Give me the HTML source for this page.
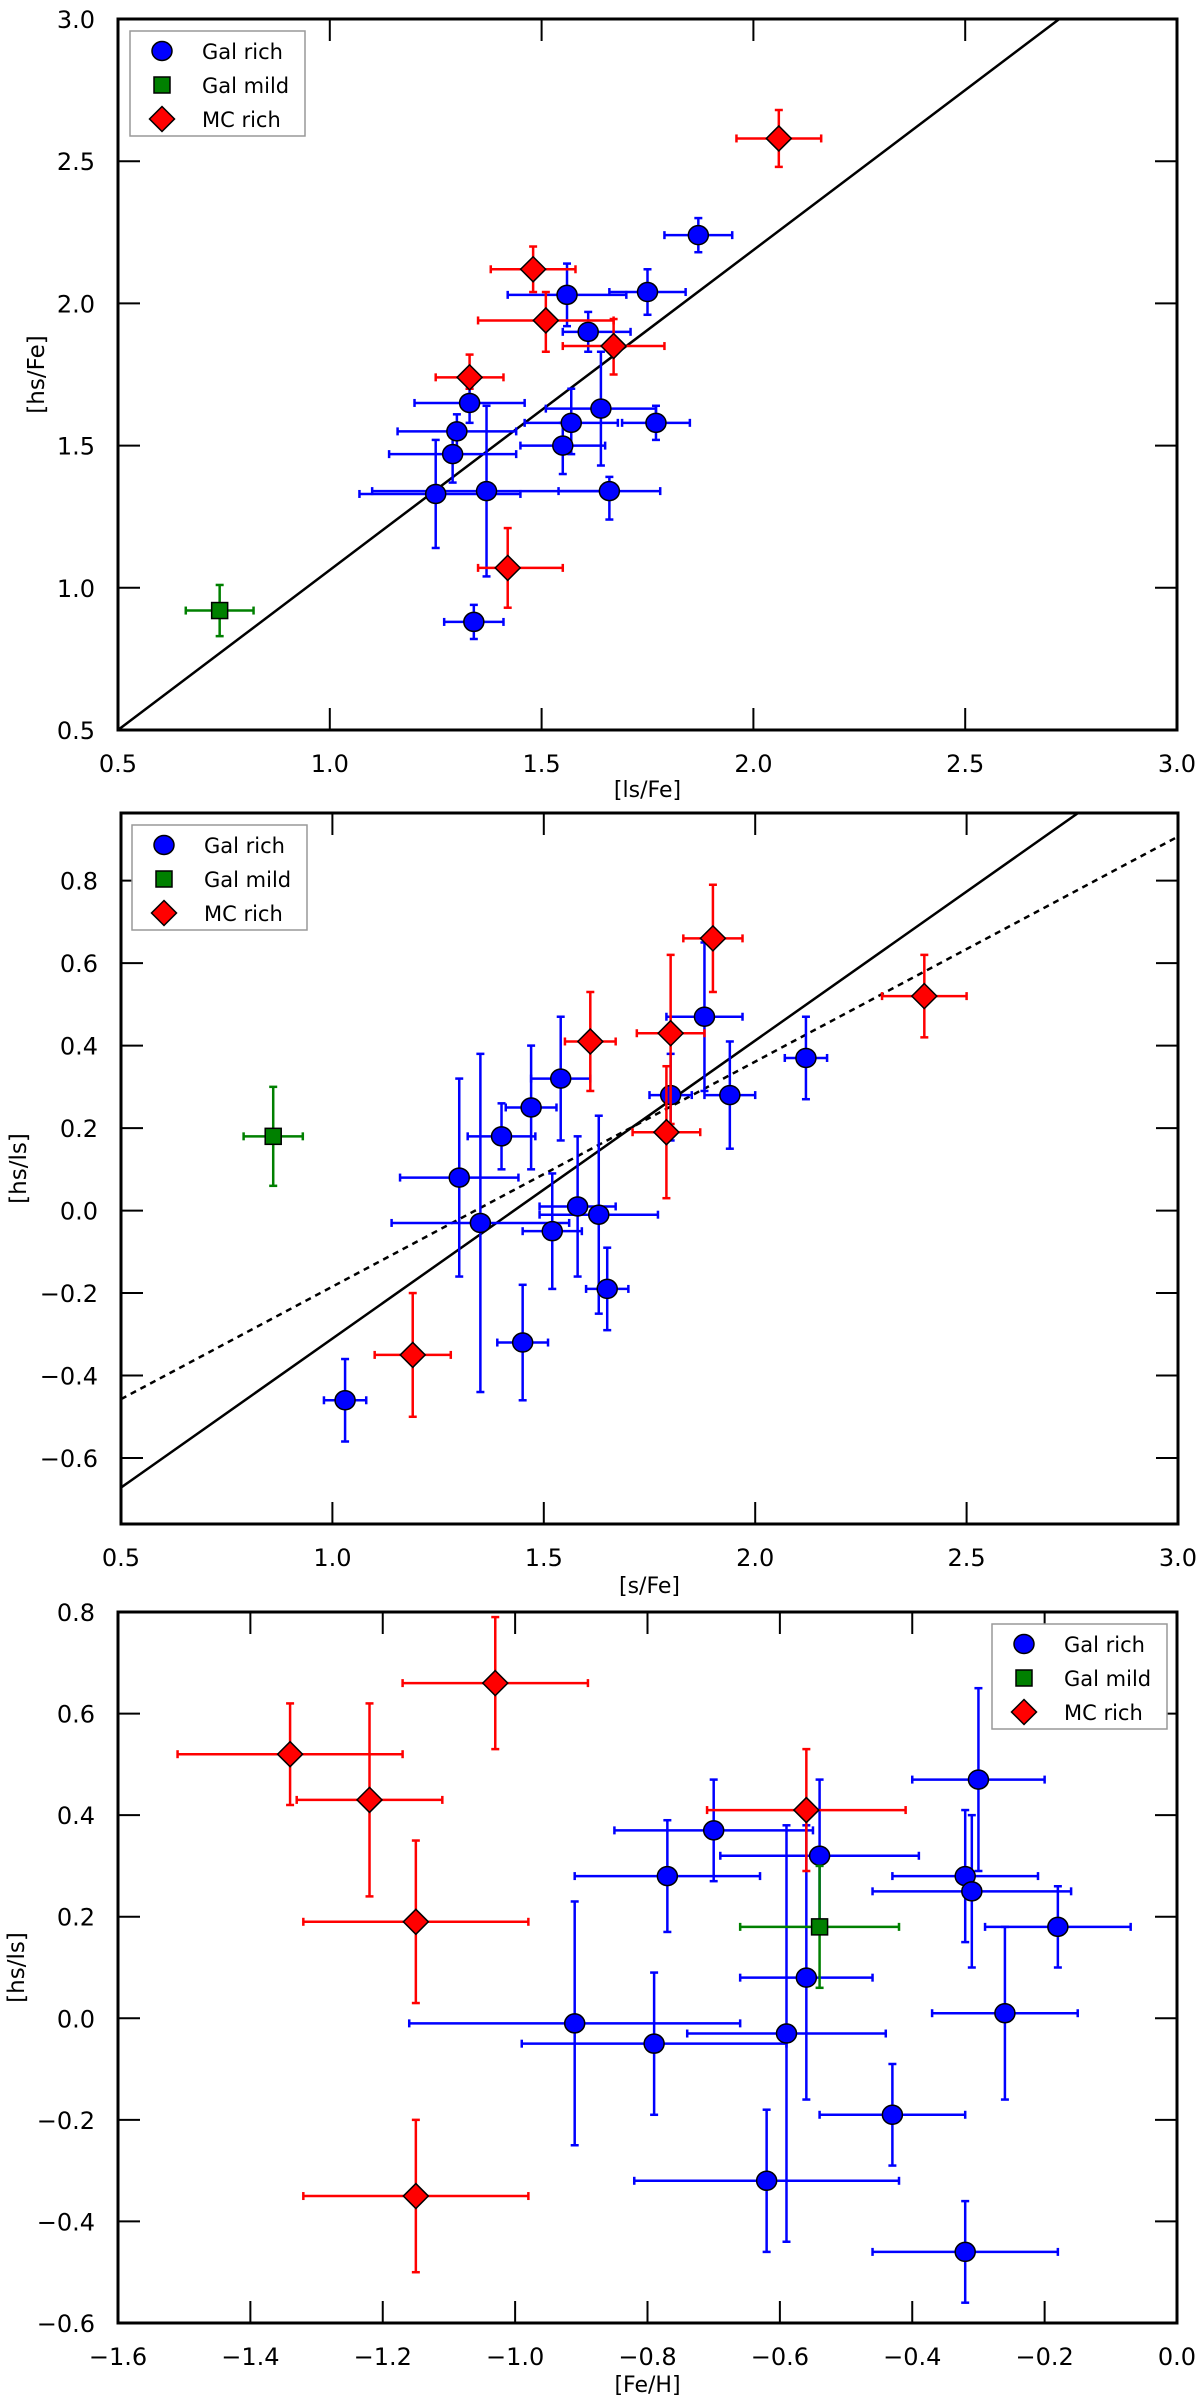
<!DOCTYPE html>
<html>
<head>
<meta charset="utf-8">
<style>
  html,body{margin:0;padding:0;background:#fff;}
  svg{display:block;font-family:"DejaVu Sans","Liberation Sans",sans-serif;}
</style>
</head>
<body>
<svg id="fig" width="1200" height="2400" viewBox="0 0 1200 2400" xmlns="http://www.w3.org/2000/svg"></svg>
<script>
// ---------- Panel 1 data: [hs/Fe] vs [ls/Fe] ----------
const p1RichX   = [1.87,1.56,1.75,1.61,1.33,1.30,1.29,1.25,1.37,1.66,1.57,1.64,1.77,1.55,1.34];
const p1RichY   = [2.24,2.03,2.04,1.90,1.65,1.55,1.47,1.33,1.34,1.34,1.58,1.63,1.58,1.50,0.88];
const p1RichXlo = [1.79,1.42,1.66,1.55,1.20,1.16,1.14,1.07,1.10,1.54,1.46,1.51,1.69,1.45,1.27];
const p1RichXhi = [1.95,1.70,1.84,1.71,1.46,1.44,1.44,1.45,1.66,1.78,1.68,1.77,1.85,1.65,1.41];
const p1RichYlo = [2.18,1.92,1.96,1.83,1.58,1.47,1.37,1.14,1.04,1.24,1.47,1.43,1.52,1.40,0.82];
const p1RichYhi = [2.30,2.14,2.12,1.97,1.70,1.61,1.53,1.52,1.64,1.39,1.70,1.83,1.64,1.58,0.94];
const p1MildX = [0.74], p1MildY = [0.92], p1MildXlo = [0.66], p1MildXhi = [0.82], p1MildYlo = [0.83], p1MildYhi = [1.01];
const p1McX   = [2.06,1.48,1.51,1.67,1.33,1.42];
const p1McY   = [2.58,2.12,1.94,1.85,1.74,1.07];
const p1McXlo = [1.96,1.38,1.35,1.55,1.25,1.35];
const p1McXhi = [2.16,1.58,1.67,1.79,1.41,1.55];
const p1McYlo = [2.48,2.04,1.83,1.75,1.70,0.93];
const p1McYhi = [2.68,2.20,2.04,1.945,1.82,1.21];
const p1FitSlope = [1.125], p1FitIntercept = [-0.0625];
const p1XTicks = [0.5,1.0,1.5,2.0,2.5,3.0];
const p1YTicks = [0.5,1.0,1.5,2.0,2.5,3.0];

// ---------- Panel 2 data: [hs/ls] vs [s/Fe] ----------
const p2RichX   = [1.03,1.30,1.35,1.40,1.47,1.54,1.52,1.58,1.63,1.65,1.45,1.80,1.88,1.94,2.12];
const p2RichY   = [-0.46,0.08,-0.03,0.18,0.25,0.32,-0.05,0.01,-0.01,-0.19,-0.32,0.28,0.47,0.28,0.37];
const p2RichXlo = [0.98,1.16,1.14,1.32,1.41,1.47,1.45,1.49,1.49,1.60,1.39,1.75,1.79,1.88,2.07];
const p2RichXhi = [1.08,1.44,1.56,1.48,1.53,1.61,1.59,1.67,1.77,1.70,1.51,1.85,1.97,2.00,2.17];
const p2RichYlo = [-0.56,-0.16,-0.44,0.10,0.10,0.17,-0.19,-0.16,-0.25,-0.29,-0.46,0.17,0.29,0.15,0.27];
const p2RichYhi = [-0.36,0.32,0.38,0.26,0.40,0.47,0.09,0.18,0.23,-0.09,-0.18,0.38,0.65,0.41,0.47];
const p2MildX = [0.86], p2MildY = [0.18], p2MildXlo = [0.79], p2MildXhi = [0.93], p2MildYlo = [0.06], p2MildYhi = [0.30];
const p2McX   = [1.19,1.61,1.80,1.90,1.79,2.40];
const p2McY   = [-0.35,0.41,0.43,0.66,0.19,0.52];
const p2McXlo = [1.10,1.55,1.72,1.83,1.71,2.30];
const p2McXhi = [1.28,1.67,1.88,1.97,1.87,2.50];
const p2McYlo = [-0.50,0.29,0.21,0.53,0.03,0.42];
const p2McYhi = [-0.20,0.53,0.62,0.79,0.35,0.62];
const p2FitSlope = [0.7226,0.5456], p2FitIntercept = [-1.033,-0.730];
const p2XTicks = [0.5,1.0,1.5,2.0,2.5,3.0];
const p2YTicks = [-0.6,-0.4,-0.2,0.0,0.2,0.4,0.6,0.8];

// ---------- Panel 3 data: [hs/ls] vs [Fe/H] ----------
const p3RichX   = [-0.70,-0.77,-0.54,-0.30,-0.32,-0.31,-0.18,-0.56,-0.26,-0.91,-0.79,-0.59,-0.43,-0.62,-0.32];
const p3RichY   = [0.37,0.28,0.32,0.47,0.28,0.25,0.18,0.08,0.01,-0.01,-0.05,-0.03,-0.19,-0.32,-0.46];
const p3RichXlo = [-0.85,-0.91,-0.69,-0.40,-0.43,-0.46,-0.29,-0.66,-0.37,-1.16,-0.99,-0.74,-0.54,-0.82,-0.46];
const p3RichXhi = [-0.55,-0.63,-0.39,-0.20,-0.21,-0.16,-0.07,-0.46,-0.15,-0.66,-0.59,-0.44,-0.32,-0.42,-0.18];
const p3RichYlo = [0.27,0.17,0.17,0.29,0.15,0.10,0.10,-0.16,-0.16,-0.25,-0.19,-0.44,-0.29,-0.46,-0.56];
const p3RichYhi = [0.47,0.39,0.47,0.65,0.41,0.40,0.26,0.38,0.18,0.23,0.09,0.38,-0.09,-0.18,-0.36];
const p3MildX = [-0.54], p3MildY = [0.18], p3MildXlo = [-0.66], p3MildXhi = [-0.42], p3MildYlo = [0.06], p3MildYhi = [0.30];
const p3McX   = [-1.34,-1.22,-1.03,-1.15,-1.15,-0.56];
const p3McY   = [0.52,0.43,0.66,0.19,-0.35,0.41];
const p3McXlo = [-1.51,-1.33,-1.17,-1.32,-1.32,-0.71];
const p3McXhi = [-1.17,-1.11,-0.89,-0.98,-0.98,-0.41];
const p3McYlo = [0.42,0.24,0.53,0.03,-0.50,0.29];
const p3McYhi = [0.62,0.62,0.79,0.35,-0.20,0.53];
const p3XTicks = [-1.6,-1.4,-1.2,-1.0,-0.8,-0.6,-0.4,-0.2,0.0];
const p3YTicks = [-0.6,-0.4,-0.2,0.0,0.2,0.4,0.6,0.8];

const NS = "http://www.w3.org/2000/svg";
const svg = document.getElementById("fig");
function mk(tag, attrs, parent){
  const e = document.createElementNS(NS, tag);
  for (const k in attrs) e.setAttribute(k, attrs[k]);
  (parent || svg).appendChild(e);
  return e;
}
function fmt(v){ const s = Math.abs(v).toFixed(1); return (v < -1e-9 ? "\u2212" : "") + s; }

function drawMarker(g, kind, cx, cy, name){
  let m;
  if (kind === "circle") {
    m = mk("ellipse", {cx:cx, cy:cy, rx:10, ry:9.5, fill:"#0000ff", stroke:"#000", "stroke-width":1.5}, g);
  } else if (kind === "square") {
    m = mk("rect", {x:cx-8, y:cy-8, width:16, height:16, fill:"#008000", stroke:"#000", "stroke-width":1.5}, g);
  } else {
    const r = 12.5;
    m = mk("polygon", {points:`${cx},${cy-r} ${cx+r},${cy} ${cx},${cy+r} ${cx-r},${cy}`, fill:"#ff0000", stroke:"#000", "stroke-width":1.5}, g);
  }
  
  
  return m;
}

function drawPanel(cfg){
  const {id, L, R, T, B, xmin, xmax, ymin, ymax} = cfg;
  const sx = v => L + (v - xmin) / (xmax - xmin) * (R - L);
  const sy = v => B - (v - ymin) / (ymax - ymin) * (B - T);
  const g = mk("g", {});
  
  
  const clipId = id + "-clip";
  const cp = mk("clipPath", {id: clipId}, g);
  mk("rect", {x:L, y:T, width:R-L, height:B-T}, cp);
  const plot = mk("g", {"clip-path": `url(#${clipId})`}, g);
  
  

  // fit lines
  cfg.fits.forEach((f, i) => {
    const ln = mk("line", {x1:sx(xmin), y1:sy(f.m*xmin + f.b), x2:sx(xmax), y2:sy(f.m*xmax + f.b),
      stroke:"#000", "stroke-width":2.5, "stroke-dasharray": f.dash ? "6,5" : "none"}, plot);
    
    
  });

  // series
  cfg.series.forEach(s => {
    const sg = mk("g", {}, plot);
    
    
    for (let i = 0; i < s.x.length; i++) {
      const cx = sx(s.x[i]), cy = sy(s.y[i]);
      const eg = mk("g", {stroke:s.color, "stroke-width":2.5, fill:"none"}, sg);
      
      
      const x1 = sx(s.xlo[i]), x2 = sx(s.xhi[i]), y1 = sy(s.ylo[i]), y2 = sy(s.yhi[i]);
      mk("line", {x1:x1, y1:cy, x2:x2, y2:cy}, eg);
      mk("line", {x1:cx, y1:y1, x2:cx, y2:y2}, eg);
      mk("line", {x1:x1, y1:cy-4, x2:x1, y2:cy+4}, eg);
      mk("line", {x1:x2, y1:cy-4, x2:x2, y2:cy+4}, eg);
      mk("line", {x1:cx-4, y1:y1, x2:cx+4, y2:y1}, eg);
      mk("line", {x1:cx-4, y1:y2, x2:cx+4, y2:y2}, eg);
    }
    for (let i = 0; i < s.x.length; i++) {
      drawMarker(sg, s.kind, sx(s.x[i]), sy(s.y[i]), s.name + '-point');
    }
  });

  // frame
  const fr = mk("rect", {x:L, y:T, width:R-L, height:B-T, fill:"none", stroke:"#000", "stroke-width":3}, g);
  
  

  // ticks
  const tk = mk("g", {stroke:"#000", "stroke-width":2}, g);
  
  
  const xl = mk("g", {"font-size":24, "text-anchor":"middle", fill:"#000"}, g);
  
  
  cfg.xticks.forEach(v => {
    const x = sx(v);
    if (x > L + 2 && x < R - 2) {
      mk("line", {x1:x, y1:B, x2:x, y2:B-22}, tk);
      mk("line", {x1:x, y1:T, x2:x, y2:T+22}, tk);
    }
    const t = mk("text", {x:x, y:B+42}, xl);
    t.textContent = fmt(v);
  });
  const yl = mk("g", {"font-size":24, "text-anchor":"end", fill:"#000"}, g);
  
  
  cfg.yticks.forEach(v => {
    const y = sy(v);
    if (y > T + 2 && y < B - 2) {
      mk("line", {x1:L, y1:y, x2:L+22, y2:y}, tk);
      mk("line", {x1:R, y1:y, x2:R-22, y2:y}, tk);
    }
    const t = mk("text", {x:cfg.ytickRight, y:y+9}, yl);
    t.textContent = fmt(v);
  });

  // axis titles
  const xt = mk("text", {x:(L+R)/2, y:cfg.xlabelY, "font-size":22, "text-anchor":"middle"}, g);
  xt.textContent = cfg.xlabel;
  
  
  const yt = mk("text", {x:0, y:0, "font-size":23, "text-anchor":"middle",
    transform:`translate(${cfg.ylabelX},${(T+B)/2}) rotate(-90)`}, g);
  yt.textContent = cfg.ylabel;
  
  

  // legend
  const lg = mk("g", {}, g);
  
  
  const lx = cfg.legend.x, ly = cfg.legend.y;
  mk("rect", {x:lx, y:ly, width:175, height:105, fill:"#fff", stroke:"#999", "stroke-width":1.5}, lg);
  const entries = [["circle","Gal rich","legend-entry-gal-rich"],["square","Gal mild","legend-entry-gal-mild"],["diamond","MC rich","legend-entry-mc-rich"]];
  entries.forEach((e, i) => {
    const ey = ly + 20 + i * 34;
    const eg = mk("g", {}, lg);
    
    
    drawMarker(eg, e[0], lx + 32, ey, 'legend-marker');
    const t = mk("text", {x:lx + 72, y:ey + 8, "font-size":21}, eg);
    t.textContent = e[1];
  });
}

drawPanel({
  id:"panel-hs-fe-vs-ls-fe", L:118, R:1177, T:19, B:730, xmin:0.5, xmax:3.0, ymin:0.5, ymax:3.0,
  xticks:p1XTicks, yticks:p1YTicks, ytickRight:95, xlabel:"[ls/Fe]", ylabel:"[hs/Fe]", xlabelY:797, ylabelX:44,
  legend:{x:130, y:31},
  fits:[{m:p1FitSlope[0], b:p1FitIntercept[0], dash:false}],
  series:[
    {name:"gal-rich", kind:"circle", color:"#0000ff", x:p1RichX, y:p1RichY, xlo:p1RichXlo, xhi:p1RichXhi, ylo:p1RichYlo, yhi:p1RichYhi},
    {name:"gal-mild", kind:"square", color:"#008000", x:p1MildX, y:p1MildY, xlo:p1MildXlo, xhi:p1MildXhi, ylo:p1MildYlo, yhi:p1MildYhi},
    {name:"mc-rich", kind:"diamond", color:"#ff0000", x:p1McX, y:p1McY, xlo:p1McXlo, xhi:p1McXhi, ylo:p1McYlo, yhi:p1McYhi}
  ]
});

drawPanel({
  id:"panel-hs-ls-vs-s-fe", L:121, R:1178, T:813, B:1524, xmin:0.5, xmax:3.0, ymin:-0.76, ymax:0.964,
  xticks:p2XTicks, yticks:p2YTicks, ytickRight:98, xlabel:"[s/Fe]", ylabel:"[hs/ls]", xlabelY:1593, ylabelX:26,
  legend:{x:132, y:825},
  fits:[{m:p2FitSlope[0], b:p2FitIntercept[0], dash:false},{m:p2FitSlope[1], b:p2FitIntercept[1], dash:true}],
  series:[
    {name:"gal-rich", kind:"circle", color:"#0000ff", x:p2RichX, y:p2RichY, xlo:p2RichXlo, xhi:p2RichXhi, ylo:p2RichYlo, yhi:p2RichYhi},
    {name:"gal-mild", kind:"square", color:"#008000", x:p2MildX, y:p2MildY, xlo:p2MildXlo, xhi:p2MildXhi, ylo:p2MildYlo, yhi:p2MildYhi},
    {name:"mc-rich", kind:"diamond", color:"#ff0000", x:p2McX, y:p2McY, xlo:p2McXlo, xhi:p2McXhi, ylo:p2McYlo, yhi:p2McYhi}
  ]
});

drawPanel({
  id:"panel-hs-ls-vs-fe-h", L:118, R:1177, T:1612, B:2323, xmin:-1.6, xmax:0.0, ymin:-0.6, ymax:0.8,
  xticks:p3XTicks, yticks:p3YTicks, ytickRight:95, xlabel:"[Fe/H]", ylabel:"[hs/ls]", xlabelY:2392, ylabelX:24,
  legend:{x:992, y:1624},
  fits:[],
  series:[
    {name:"gal-rich", kind:"circle", color:"#0000ff", x:p3RichX, y:p3RichY, xlo:p3RichXlo, xhi:p3RichXhi, ylo:p3RichYlo, yhi:p3RichYhi},
    {name:"gal-mild", kind:"square", color:"#008000", x:p3MildX, y:p3MildY, xlo:p3MildXlo, xhi:p3MildXhi, ylo:p3MildYlo, yhi:p3MildYhi},
    {name:"mc-rich", kind:"diamond", color:"#ff0000", x:p3McX, y:p3McY, xlo:p3McXlo, xhi:p3McXhi, ylo:p3McYlo, yhi:p3McYhi}
  ]
});
</script>
</body>
</html>
